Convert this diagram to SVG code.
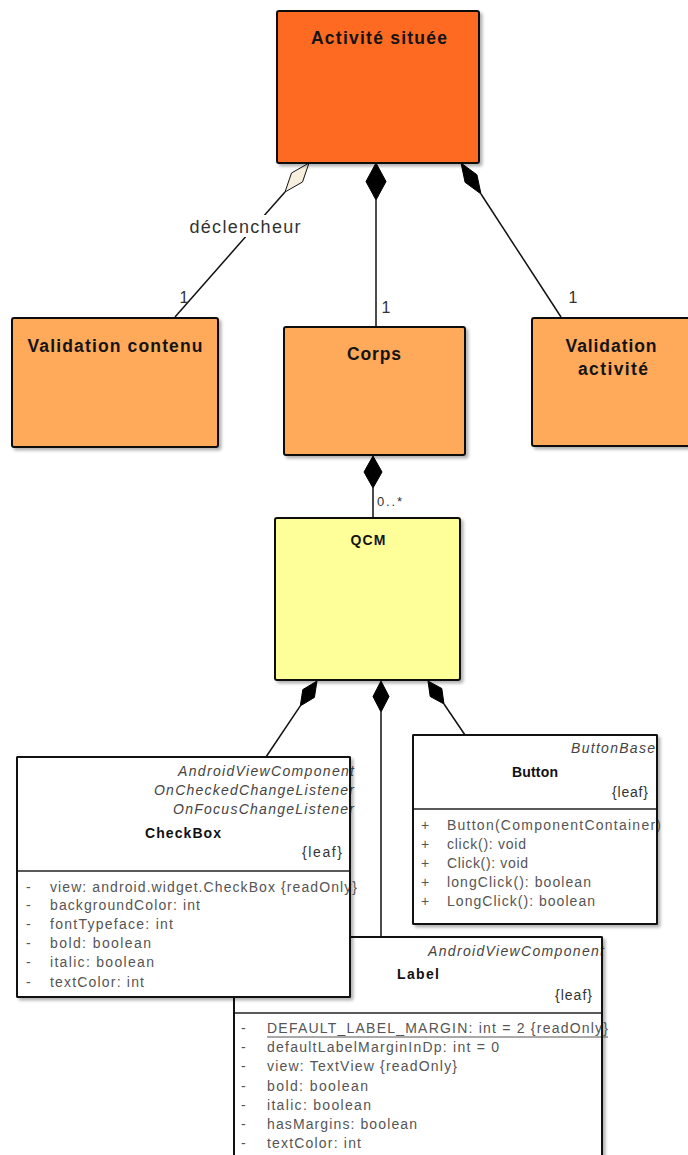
<svg xmlns="http://www.w3.org/2000/svg" width="688" height="1155" viewBox="0 0 688 1155">
<defs>
<filter id="sh" x="-10%" y="-10%" width="130%" height="130%">
<feDropShadow dx="2.5" dy="2.5" stdDeviation="1.5" flood-color="#000" flood-opacity="0.3"/>
</filter>
</defs>
<style>
.box{stroke:#111;stroke-width:2}
.t{font-family:"Liberation Sans",Arial,sans-serif;font-weight:bold;fill:#141414}
.lbl{font-family:"Liberation Sans",Arial,sans-serif;fill:#333}
.cls{fill:#fff;stroke:#111;stroke-width:2}
.sep{stroke:#222;stroke-width:1.5}
.it{font-family:"Liberation Sans",Arial,sans-serif;font-style:italic;font-size:14px;fill:#444}
.cn{font-family:"Liberation Sans",Arial,sans-serif;font-weight:bold;font-size:14px;fill:#111}
.lf{font-family:"Liberation Sans",Arial,sans-serif;font-size:14px;fill:#333}
.at{font-family:"Liberation Sans",Arial,sans-serif;font-size:14px;fill:#555}
.ln{stroke:#111;stroke-width:1.5;fill:none}
.fd{fill:#000;stroke:#000;stroke-width:1}
.hd{fill:#F7EEDD;stroke:#111;stroke-width:1}
</style>

<g id="connectors">
<polygon class="hd" points="309,163 302.5,182 285,192 291.5,173"/>
<line class="ln" x1="285" y1="192" x2="175" y2="317"/>
<rect x="187" y="215" width="116" height="22" fill="#fff"/>
<text class="lbl" x="245" y="233" font-size="18" text-anchor="middle" textLength="111" lengthAdjust="spacing">déclencheur</text>
<text class="lbl" x="184" y="303" font-size="16" text-anchor="middle">1</text>

<polygon class="fd" points="376,163 386,181.5 376,200 366,181.5"/>
<line class="ln" x1="376" y1="200" x2="376" y2="327"/>
<text class="lbl" x="386" y="313" font-size="16" text-anchor="middle">1</text>

<polygon class="fd" points="461,163 476.9,174.7 481,194 465.1,182.3"/>
<line class="ln" x1="481" y1="194" x2="561" y2="317"/>
<text class="lbl" x="573" y="303" font-size="16" text-anchor="middle">1</text>

<polygon class="fd" points="373,456 382,472 373,488 364,472"/>
<line class="ln" x1="373" y1="488" x2="373" y2="518"/>
<text class="lbl" x="377" y="506" font-size="13" textLength="25" lengthAdjust="spacing">0..*</text>

<polygon class="fd" points="317,681 314.4,697.4 300.3,705.9 302.8,689.6"/>
<line class="ln" x1="300.3" y1="705.9" x2="266" y2="757"/>

<polygon class="fd" points="381,681 389,696.5 381,712 373,696.5"/>
<line class="ln" x1="381" y1="712" x2="381" y2="937"/>

<polygon class="fd" points="428,681 441.8,688.5 444,704 430.2,696.5"/>
<line class="ln" x1="444" y1="704" x2="465" y2="735"/>
</g>

<g id="activite-situee">
<rect class="box" x="277" y="11" width="202" height="152" rx="2" fill="#FF6A22" filter="url(#sh)"/>
<text class="t" x="379" y="44" font-size="17.5" text-anchor="middle" textLength="136" lengthAdjust="spacing">Activité située</text>
</g>

<g id="validation-contenu">
<rect class="box" x="12" y="318" width="206" height="129" rx="2" fill="#FFAA5A" filter="url(#sh)"/>
<text class="t" x="115" y="352" font-size="17.5" text-anchor="middle" textLength="175" lengthAdjust="spacing">Validation contenu</text>
</g>

<g id="corps">
<rect class="box" x="284" y="327" width="181" height="128" rx="2" fill="#FFAA5A" filter="url(#sh)"/>
<text class="t" x="374" y="360" font-size="17.5" text-anchor="middle" textLength="54" lengthAdjust="spacing">Corps</text>
</g>

<g id="validation-activite">
<rect class="box" x="532" y="318" width="170" height="128" rx="2" fill="#FFAA5A" filter="url(#sh)"/>
<text class="t" x="611" y="352" font-size="17.5" text-anchor="middle" textLength="91" lengthAdjust="spacing">Validation</text>
<text class="t" x="613" y="375" font-size="17.5" text-anchor="middle" textLength="70" lengthAdjust="spacing">activité</text>
</g>

<g id="qcm">
<rect class="box" x="275" y="518" width="185" height="162" rx="2" fill="#FFFF99" filter="url(#sh)"/>
<text class="t" x="368" y="545" font-size="14" text-anchor="middle" textLength="35" lengthAdjust="spacing">QCM</text>
</g>

<g id="button">
<rect class="cls" x="413" y="735" width="244" height="189" rx="1" filter="url(#sh)"/>
<line class="sep" x1="413" y1="809" x2="657" y2="809"/>
<text class="it" x="655" y="753" text-anchor="end" textLength="84" lengthAdjust="spacing">ButtonBase</text>
<text class="cn" x="535" y="777" text-anchor="middle" textLength="46" lengthAdjust="spacing">Button</text>
<text class="lf" x="648" y="797" text-anchor="end" textLength="36" lengthAdjust="spacing">{leaf}</text>
<text class="at" x="421" y="830">+</text>
<text class="at" x="447" y="830" textLength="214" lengthAdjust="spacing">Button(ComponentContainer)</text>
<text class="at" x="421" y="849">+</text>
<text class="at" x="447" y="849" textLength="79" lengthAdjust="spacing">click(): void</text>
<text class="at" x="421" y="868">+</text>
<text class="at" x="447" y="868" textLength="81" lengthAdjust="spacing">Click(): void</text>
<text class="at" x="421" y="887">+</text>
<text class="at" x="447" y="887" textLength="144" lengthAdjust="spacing">longClick(): boolean</text>
<text class="at" x="421" y="906">+</text>
<text class="at" x="447" y="906" textLength="148" lengthAdjust="spacing">LongClick(): boolean</text>
<rect x="413" y="735" width="244" height="189" rx="1" fill="none" stroke="#111" stroke-width="2"/>
</g>

<g id="label">
<rect class="cls" x="234" y="937" width="368" height="240" rx="1" filter="url(#sh)"/>
<line class="sep" x1="234" y1="1013" x2="602" y2="1013"/>
<text class="it" x="604" y="956" text-anchor="end" textLength="176" lengthAdjust="spacing">AndroidViewComponent</text>
<text class="cn" x="418" y="979" text-anchor="middle" textLength="42" lengthAdjust="spacing">Label</text>
<text class="lf" x="592" y="1000" text-anchor="end" textLength="37" lengthAdjust="spacing">{leaf}</text>
<text class="at" x="241" y="1033">-</text>
<text class="at" x="267" y="1033" textLength="341" lengthAdjust="spacing">DEFAULT_LABEL_MARGIN: int = 2 {readOnly}</text>
<line x1="267" y1="1037" x2="608" y2="1037" stroke="#555" stroke-width="1"/>
<text class="at" x="241" y="1052">-</text>
<text class="at" x="267" y="1052" textLength="232" lengthAdjust="spacing">defaultLabelMarginInDp: int = 0</text>
<text class="at" x="241" y="1071">-</text>
<text class="at" x="267" y="1071" textLength="190" lengthAdjust="spacing">view: TextView {readOnly}</text>
<text class="at" x="241" y="1091">-</text>
<text class="at" x="267" y="1091" textLength="101" lengthAdjust="spacing">bold: boolean</text>
<text class="at" x="241" y="1110">-</text>
<text class="at" x="267" y="1110" textLength="104" lengthAdjust="spacing">italic: boolean</text>
<text class="at" x="241" y="1129">-</text>
<text class="at" x="267" y="1129" textLength="150" lengthAdjust="spacing">hasMargins: boolean</text>
<text class="at" x="241" y="1148">-</text>
<text class="at" x="267" y="1148" textLength="94" lengthAdjust="spacing">textColor: int</text>
<rect x="234" y="937" width="368" height="240" rx="1" fill="none" stroke="#111" stroke-width="2"/>
</g>

<g id="checkbox">
<rect class="cls" x="17" y="757" width="333" height="240" rx="1" filter="url(#sh)"/>
<line class="sep" x1="17" y1="871" x2="350" y2="871"/>
<text class="it" x="354" y="776" text-anchor="end" textLength="176" lengthAdjust="spacing">AndroidViewComponent</text>
<text class="it" x="354" y="795" text-anchor="end" textLength="200" lengthAdjust="spacing">OnCheckedChangeListener</text>
<text class="it" x="354" y="814" text-anchor="end" textLength="181" lengthAdjust="spacing">OnFocusChangeListener</text>
<text class="cn" x="183" y="838" text-anchor="middle" textLength="76" lengthAdjust="spacing">CheckBox</text>
<text class="lf" x="342" y="857" text-anchor="end" textLength="40" lengthAdjust="spacing">{leaf}</text>
<text class="at" x="26" y="892">-</text>
<text class="at" x="50" y="892" textLength="307" lengthAdjust="spacing">view: android.widget.CheckBox {readOnly}</text>
<text class="at" x="26" y="910">-</text>
<text class="at" x="50" y="910" textLength="150" lengthAdjust="spacing">backgroundColor: int</text>
<text class="at" x="26" y="929">-</text>
<text class="at" x="50" y="929" textLength="123" lengthAdjust="spacing">fontTypeface: int</text>
<text class="at" x="26" y="948">-</text>
<text class="at" x="50" y="948" textLength="101" lengthAdjust="spacing">bold: boolean</text>
<text class="at" x="26" y="967">-</text>
<text class="at" x="50" y="967" textLength="104" lengthAdjust="spacing">italic: boolean</text>
<text class="at" x="26" y="987">-</text>
<text class="at" x="50" y="987" textLength="94" lengthAdjust="spacing">textColor: int</text>
<rect x="17" y="757" width="333" height="240" rx="1" fill="none" stroke="#111" stroke-width="2"/>
</g>
</svg>
